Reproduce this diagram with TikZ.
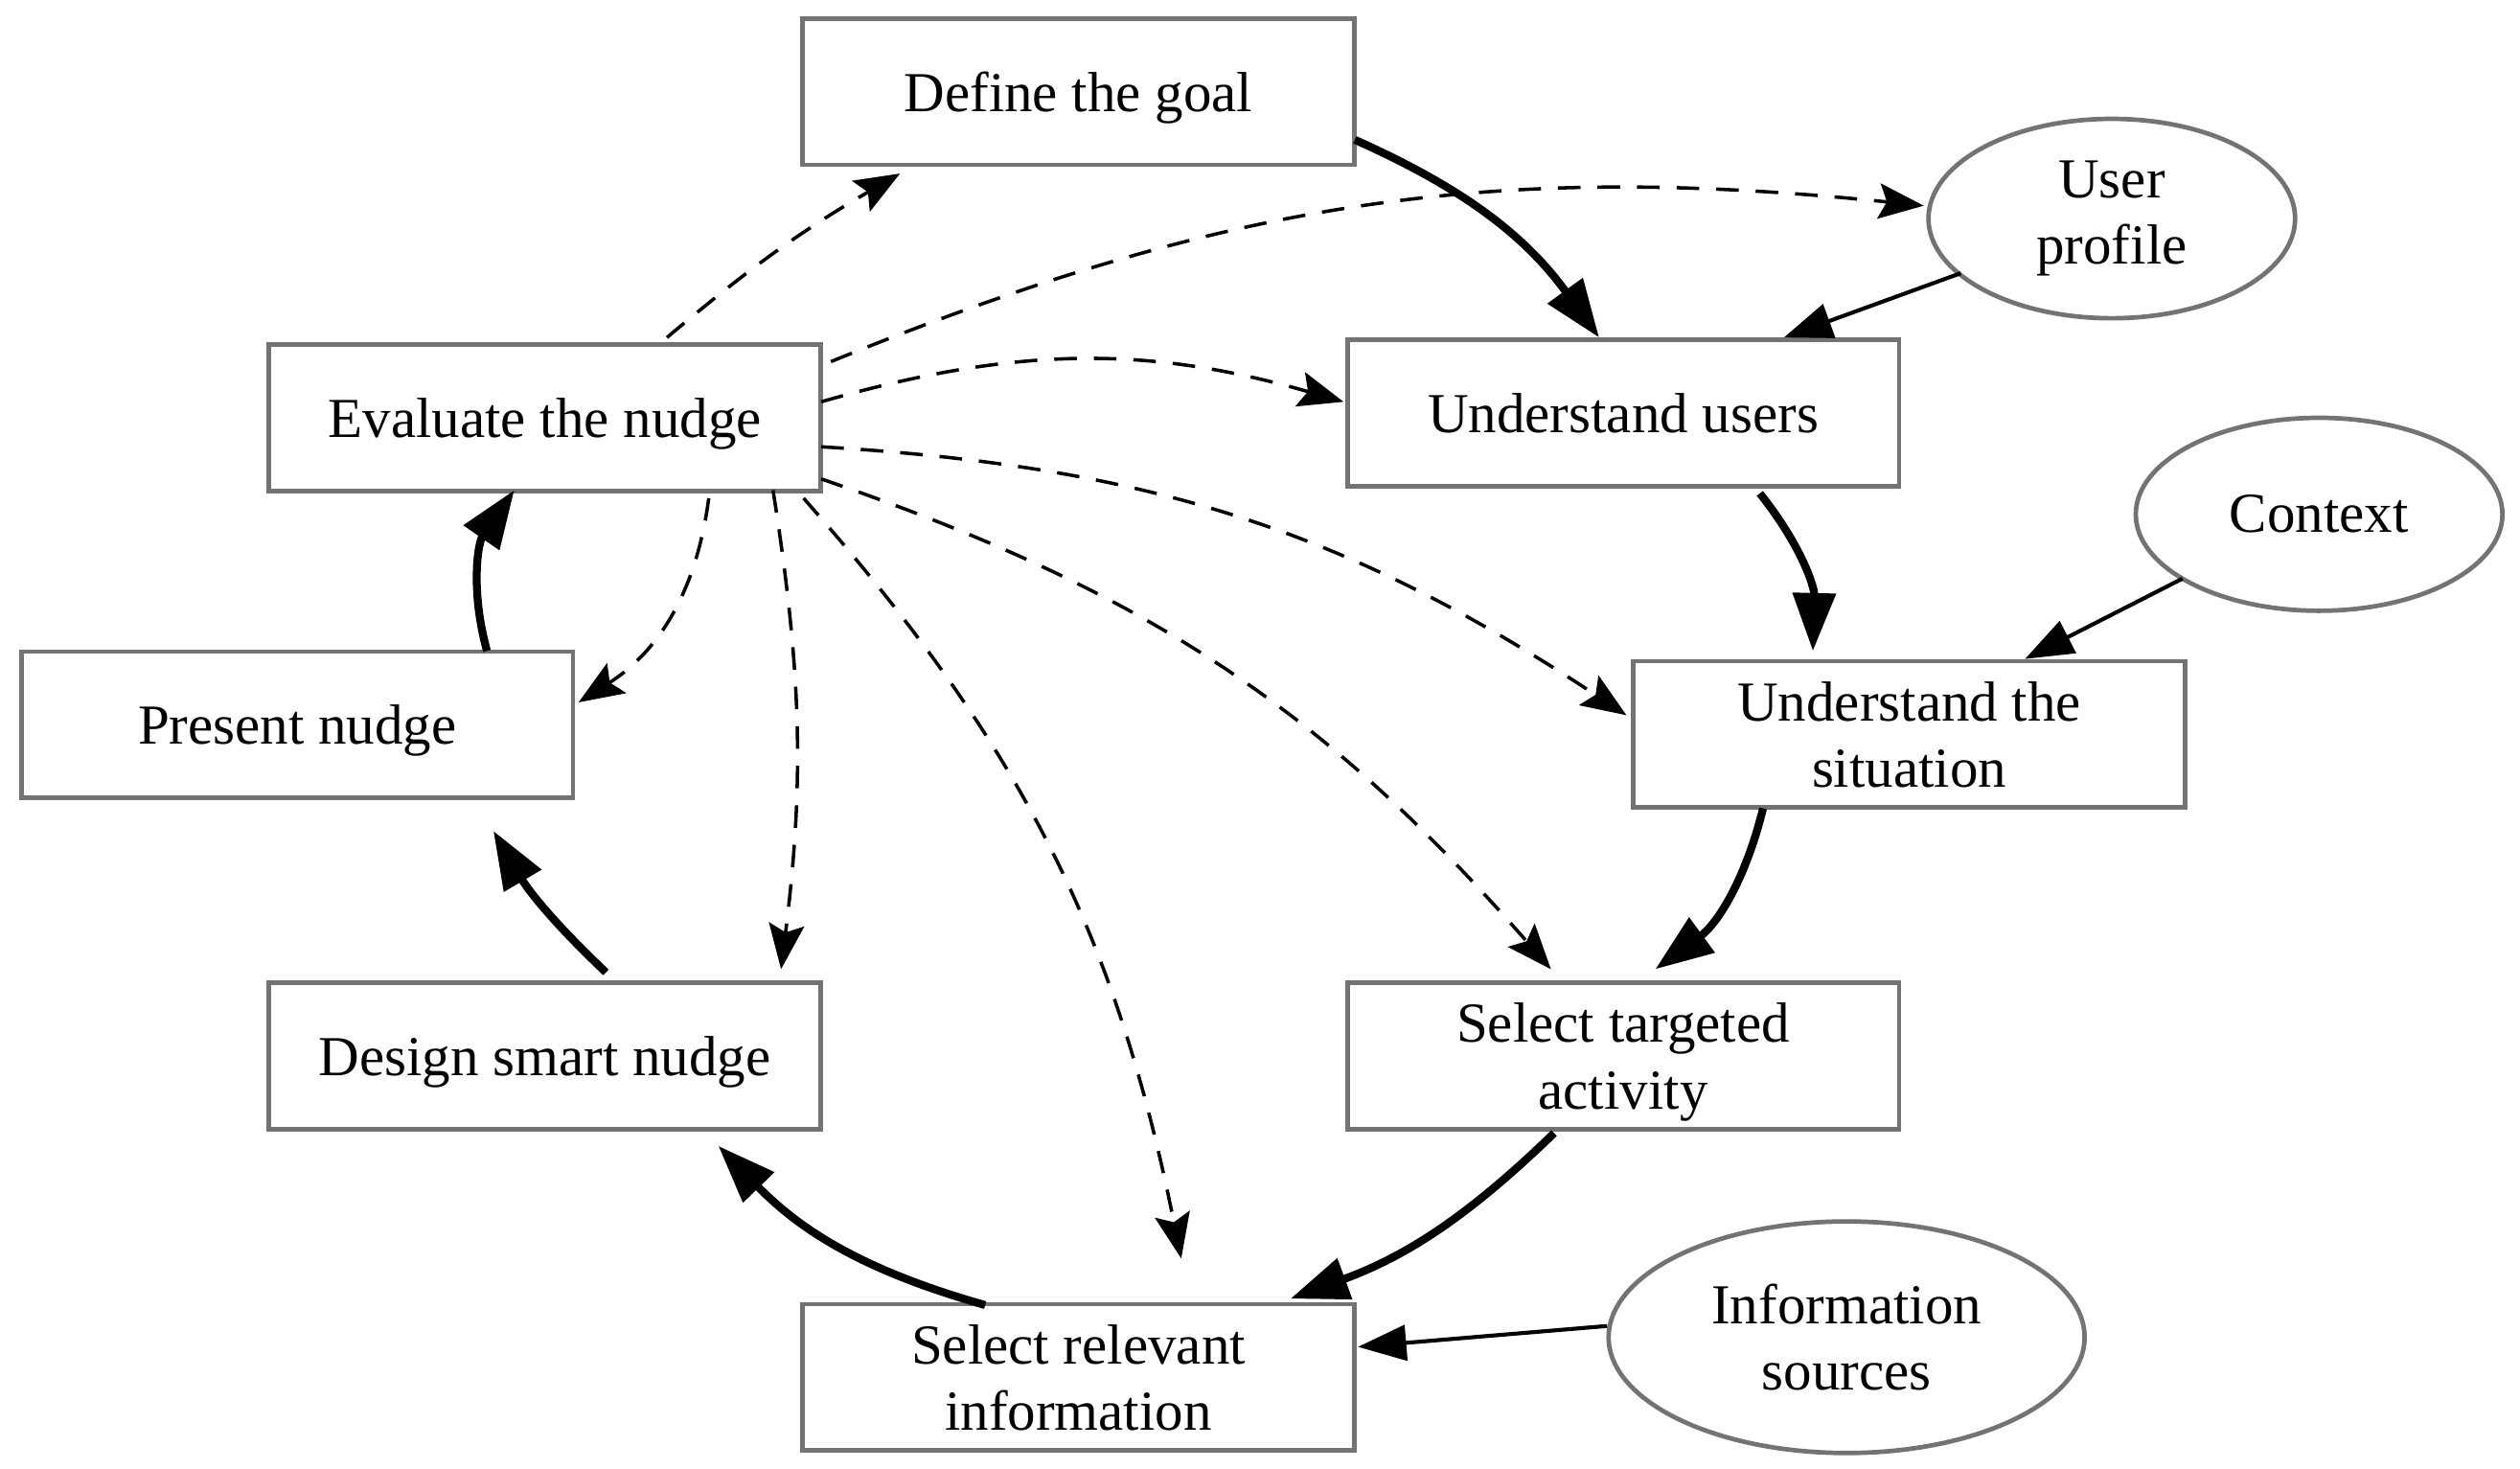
\documentclass[tikz,border=0pt]{standalone}
\usepackage{fontspec}
\setmainfont{Liberation Serif}
\usetikzlibrary{arrows.meta,calc,shapes.geometric}
\begin{document}
\begin{tikzpicture}[x=0.01cm,y=-0.01cm,
  box/.style={draw=black!55,line width=0.8pt,minimum width=3.43cm,minimum height=0.91cm,align=center,font=\fontsize{10pt}{11.8pt}\selectfont,inner sep=0pt,text depth=-0.08cm},
  ell/.style={draw=black!55,line width=0.8pt,ellipse,align=center,font=\fontsize{10pt}{11.8pt}\selectfont,inner sep=0pt},
  mainarr/.style={line width=1.4pt,-{Triangle[length=0.36cm,width=0.26cm]}},
  thinarr/.style={line width=0.7pt,-{Triangle[length=0.3cm,width=0.22cm]}},
  dasharr/.style={line width=0.6pt,dash pattern=on 4pt off 3pt,-{Stealth[length=0.28cm,width=0.22cm,inset=0.05cm]}}]
\useasboundingbox (0,0) rectangle (1568,913.5);
\node[box] (goal) at (671,57) {Define the goal};
\node[box] (eval) at (339,260) {Evaluate the nudge};
\node[box] (users) at (1010,257) {Understand users};
\node[box] (present) at (185,451) {Present nudge};
\node[box] (sit) at (1188,457) {Understand the\\situation};
\node[box] (design) at (339,657) {Design smart nudge};
\node[box] (target) at (1010,657) {Select targeted\\activity};
\node[box] (info) at (671,857) {Select relevant\\information};
\node[ell,minimum width=2.28cm,minimum height=1.24cm] (up) at (1314,136) {User\\profile};
\node[ell,minimum width=2.28cm,minimum height=1.2cm] (ctx) at (1443,320) {Context};
\node[ell,minimum width=2.96cm,minimum height=1.44cm] (src) at (1149,832) {Information\\sources};
% solid
\draw[mainarr] ($(goal)+(172,30)$) to[bend left=15] ($(users)+(-15,-47)$);
\draw[thinarr] ($(up)+(-94,34)$) -- ($(users)+(100,-47)$);
\draw[mainarr] ($(users)+(85,50)$) to[bend left=20] ($(sit)+(-60,-52)$);
\draw[thinarr] ($(ctx)+(-85,40)$) -- ($(sit)+(72,-47)$);
\draw[mainarr] ($(sit)+(-91,46)$) to[bend left=20] ($(target)+(20,-54)$);
\draw[mainarr] ($(target)+(-43,48)$) to[bend left=12] ($(info)+(132,-49)$);
\draw[thinarr] ($(src)+(-149,-7)$) -- ($(info)+(174,-19)$);
\draw[mainarr] ($(info)+(-58,-45)$) to[bend left=15] ($(design)+(108,56)$);
\draw[mainarr] ($(design)+(38,-52)$) to[bend left=8] ($(present)+(122,66)$);
\draw[mainarr] ($(present)+(118,-46)$) to[bend left=25] ($(eval)+(-19,45)$);
% dashed
\draw[dasharr] ($(eval)+(76,-50)$) to[bend left=5] ($(goal)+(-111,51)$);
\draw[dasharr] ($(eval)+(178,-35)$) to[bend left=14] ($(up)+(-117,-8)$);
\draw[dasharr] ($(eval)+(172,-10)$) to[bend left=16] ($(users)+(-174,-7)$);
\draw[dasharr] ($(eval)+(172,18)$) to[bend left=15] ($(sit)+(-176,-12)$);
\draw[dasharr] ($(eval)+(172,38)$) to[bend left=15] ($(target)+(-45,-54)$);
\draw[dasharr] ($(eval)+(161,50)$) to[bend left=15] ($(info)+(64,-74)$);
\draw[dasharr] ($(eval)+(142,45)$) to[bend left=8] ($(design)+(147,-54)$);
\draw[dasharr] ($(eval)+(102,50)$) to[bend left=25] ($(present)+(175,-14)$);
\end{tikzpicture}
\end{document}
